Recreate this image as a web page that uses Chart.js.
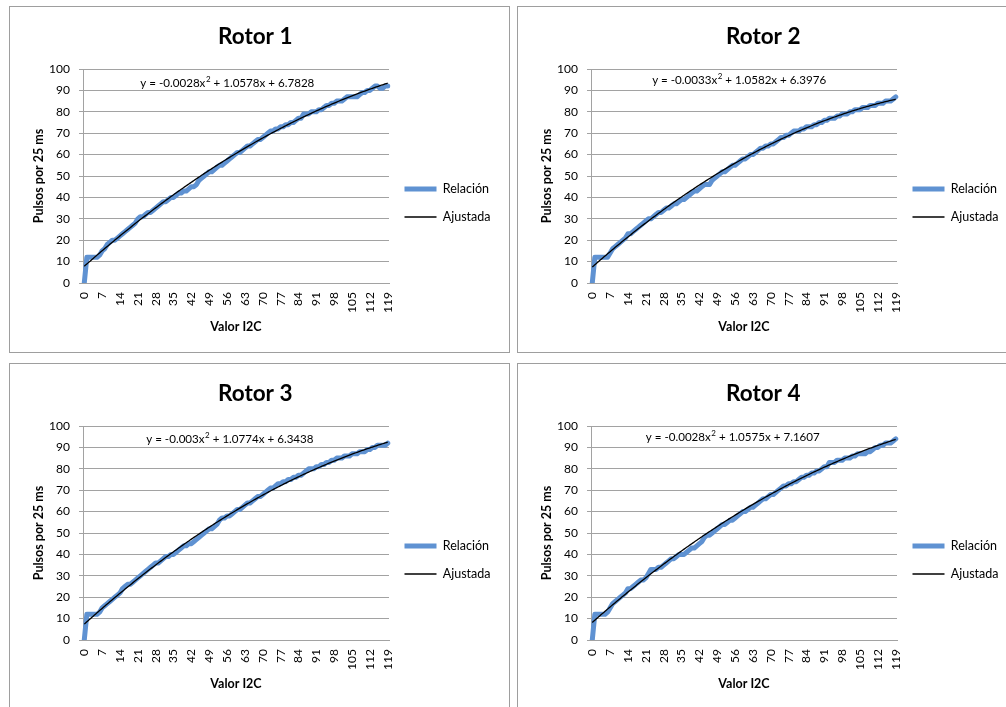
<!DOCTYPE html>
<html>
<head>
<meta charset="utf-8">
<script src="https://cdn.jsdelivr.net/npm/chart.js@4.4.1/dist/chart.umd.min.js"></script>
<style>
  html, body { margin: 0; padding: 0; background: #fff; overflow: hidden; width: 1006px; height: 707px; }
  .panel { position: absolute; width: 499px; height: 345px; border: 1px solid #9e9e9e; background: #fff; }
  .panel canvas { display: block; }
</style>
</head>
<body>
<div class="panel" style="left:9px;top:6px"><canvas id="rotor1" width="499" height="345"></canvas></div>
<div class="panel" style="left:517px;top:6px"><canvas id="rotor2" width="499" height="345"></canvas></div>
<div class="panel" style="left:9px;top:363px"><canvas id="rotor3" width="499" height="345"></canvas></div>
<div class="panel" style="left:517px;top:363px"><canvas id="rotor4" width="499" height="345"></canvas></div>
<script>
// Valor I2C (x categories)
const categories = [
  0,1,2,3,4,5,6,7,8,9,10,11,12,13,14,15,16,17,18,19,
  20,21,22,23,24,25,26,27,28,29,30,31,32,33,34,35,36,37,38,39,
  40,41,42,43,44,45,46,47,48,49,50,51,52,53,54,55,56,57,58,59,
  60,61,62,63,64,65,66,67,68,69,70,71,72,73,74,75,76,77,78,79,
  80,81,82,83,84,85,86,87,88,89,90,91,92,93,94,95,96,97,98,99,
  100,101,102,103,104,105,106,107,108,109,110,111,112,113,114,115,116,117,118,119
];
// category labels printed on the x axis
const xTickLabels = [0,7,14,21,28,35,42,49,56,63,70,77,84,91,98,105,112,119];
const yTicks = [0,10,20,30,40,50,60,70,80,90,100];

// Pulsos por 25 ms measured for each rotor
const rotor1Relacion = [
  0,12,12,12,12,12,13,15,16,18, 19,20,20,21,22,23,24,25,26,27,
  28,30,31,31,32,33,33,34,35,36, 37,38,38,39,40,40,41,42,42,43,
  43,44,45,45,46,48,49,50,51,52, 52,53,54,55,55,56,57,58,59,60,
  61,61,62,63,64,64,65,66,67,67, 68,69,70,71,71,72,72,73,73,74,
  74,75,75,76,77,77,79,79,79,80, 80,80,81,81,82,83,83,84,84,85,
  85,85,86,87,87,87,87,87,88,89, 89,90,90,91,92,92,91,91,92,92
];
const rotor2Relacion = [
  0,12,12,12,12,12,12,14,16,17, 18,19,20,21,23,23,24,25,26,27,
  28,29,30,30,31,32,33,33,34,35, 35,36,37,37,38,39,39,40,41,42,
  43,43,44,45,46,46,46,48,49,50, 51,52,52,53,54,55,55,56,57,58,
  58,59,60,60,61,62,63,63,64,64, 65,65,66,67,68,68,69,69,70,71,
  71,71,72,72,73,73,73,74,74,75, 75,76,76,77,77,77,78,78,79,79,
  79,80,80,81,81,81,82,82,82,83, 83,83,84,84,84,85,85,85,86,87
];
const rotor3Relacion = [
  0,12,12,12,12,12,13,15,16,17, 18,19,20,21,22,24,25,26,26,27,
  28,29,30,31,32,33,34,35,36,36, 37,38,39,39,40,40,41,42,43,44,
  44,45,45,46,47,48,49,50,51,52, 52,53,54,56,57,57,58,58,59,60,
  61,61,62,63,64,64,65,66,67,67, 68,69,70,71,71,72,73,73,74,74,
  75,75,76,76,77,77,78,79,80,80, 80,81,81,82,82,83,83,84,84,85,
  85,85,86,86,86,87,87,87,88,88, 88,89,89,90,90,91,91,91,91,92
];
const rotor4Relacion = [
  0,12,12,12,12,12,13,15,17,18, 19,20,21,22,24,24,25,26,27,28,
  28,29,31,33,33,33,34,34,35,36, 37,38,38,39,40,40,40,41,42,43,
  43,44,45,46,48,49,49,50,51,52, 53,54,54,55,56,56,57,58,59,60,
  60,61,62,62,63,64,65,66,66,67, 68,68,69,70,71,72,72,73,73,74,
  74,75,76,76,77,77,78,78,79,79, 80,81,81,83,83,83,84,84,84,85,
  85,85,86,86,87,87,87,87,88,88, 89,90,90,91,91,92,92,92,93,94
];

// polynomial trendline coefficients [x², x, constant]
const rotor1Fit = [-0.0028, 1.0578, 6.7828];
const rotor2Fit = [-0.0033, 1.0582, 6.3976];
const rotor3Fit = [-0.003, 1.0774, 6.3438];
const rotor4Fit = [-0.0028, 1.0575, 7.1607];

const FONT_FAMILY = "Lato, Carlito, 'Liberation Sans', sans-serif";
const GRID = '#a2a2a2';
const BLUE = '#5f92d2';
const LEGEND_FONT = 12.5;
const LEGEND_PAD = 15.5;
const LEGEND_LINE = 32;
const TICK_FONT = 12;
const AXIS_TITLE_FONT = 12.5;
const PLOT_LEFT = 73, PLOT_RIGHT = 379, PLOT_TOP = 62, PLOT_BOTTOM = 276;
const CANVAS_W = 499, CANVAS_H = 345;
const LEGEND_FIRST_ROW = 182;

Chart.defaults.font.family = FONT_FAMILY;
Chart.defaults.color = '#000';

// width of the legend box, so the plot keeps its place on the left
const probe = document.createElement('canvas').getContext('2d');
probe.font = LEGEND_FONT + 'px ' + FONT_FAMILY;
const legendTextW = Math.max(probe.measureText('Relación').width, probe.measureText('Ajustada').width);
const legendW = LEGEND_PAD + LEGEND_LINE + LEGEND_FONT / 2 + legendTextW + 10;
const padRight = CANVAS_W - PLOT_RIGHT - legendW;
// empty legend heading that pushes the two entries down beside the plot
const legendHeadGap = LEGEND_FIRST_ROW - PLOT_TOP - LEGEND_PAD - LEGEND_FONT / 2 - 10;

// trendline equation written inside the plot, with a superscript square
const equationLabel = {
  id: 'equationLabel',
  afterDatasetsDraw(chart, args, opts) {
    const { ctx, scales: { x, y } } = chart;
    const [a, b, c] = opts.coef;
    const head = 'y = ' + a + 'x';
    const sup = '2';
    const tail = ' + ' + b + 'x + ' + c;
    const mainFont = opts.size + 'px ' + FONT_FAMILY;
    const supFont = Math.round(opts.size * 0.65) + 'px ' + FONT_FAMILY;
    ctx.save();
    ctx.fillStyle = '#000';
    ctx.textBaseline = 'alphabetic';
    ctx.font = mainFont;
    const w1 = ctx.measureText(head).width;
    const w3 = ctx.measureText(tail).width;
    ctx.font = supFont;
    const w2 = ctx.measureText(sup).width;
    const cx = x.getPixelForValue(opts.at[0]);
    const cy = y.getPixelForValue(opts.at[1]);
    const left = cx - (w1 + w2 + w3) / 2;
    const base = cy + opts.size * 0.36;
    ctx.textAlign = 'left';
    ctx.font = mainFont;
    ctx.fillText(head, left, base);
    ctx.font = supFont;
    ctx.fillText(sup, left + w1 + 0.5, base - opts.size * 0.42);
    ctx.font = mainFont;
    ctx.fillText(tail, left + w1 + w2 + 0.5, base);
    ctx.restore();
  }
};

function rotorChart(id, title, relacion, fit, eqAt) {
  const [a, b, c] = fit;
  // Excel numbers the categories from 1 when it fits a line chart
  const ajustada = categories.map((_, i) => a * (i + 1) * (i + 1) + b * (i + 1) + c);
  return new Chart(document.getElementById(id), {
    type: 'line',
    data: {
      labels: categories,
      datasets: [
        {
          label: 'Relación',
          data: relacion,
          borderColor: BLUE,
          backgroundColor: BLUE,
          borderWidth: 5,
          pointRadius: 0,
          pointBorderWidth: 5,
          pointBorderColor: BLUE,
          borderCapStyle: 'round',
          borderJoinStyle: 'round',
          tension: 0,
          fill: false,
          order: 1
        },
        {
          label: 'Ajustada',
          data: ajustada,
          borderColor: '#000',
          backgroundColor: '#000',
          borderWidth: 1.3,
          pointRadius: 0,
          pointBorderWidth: 1.3,
          pointBorderColor: '#000',
          tension: 0.2,
          fill: false,
          order: 0
        }
      ]
    },
    plugins: [equationLabel],
    options: {
      responsive: false,
      animation: false,
      events: [],
      layout: { padding: { left: 0, right: padRight, top: 0, bottom: 0 } },
      scales: {
        x: {
          type: 'category',
          offset: true,
          grid: { display: true, drawOnChartArea: false, drawTicks: false },
          border: { display: true, color: GRID, width: 1 },
          ticks: {
            autoSkip: false,
            maxRotation: 90,
            minRotation: 90,
            padding: 9,
            font: { size: TICK_FONT },
            callback(value, index) {
              const v = categories[index];
              return xTickLabels.includes(v) ? String(v) : null;
            }
          },
          title: {
            display: true,
            text: 'Valor I2C',
            font: { size: AXIS_TITLE_FONT, weight: 'bold' },
            padding: { top: 0, bottom: 25 - AXIS_TITLE_FONT * 0.6 }
          },
          afterFit(scale) { scale.height = CANVAS_H - PLOT_BOTTOM; }
        },
        y: {
          min: yTicks[0],
          max: yTicks[yTicks.length - 1],
          grid: { color: GRID, lineWidth: 1, tickLength: 4, drawTicks: true },
          border: { display: true, color: GRID, width: 1 },
          ticks: { stepSize: 10, padding: 9, font: { size: TICK_FONT } },
          title: {
            display: true,
            text: 'Pulsos por 25 ms',
            font: { size: AXIS_TITLE_FONT, weight: 'bold' },
            padding: { top: 29 - AXIS_TITLE_FONT * 0.6, bottom: 0 }
          },
          afterFit(scale) { scale.width = PLOT_LEFT; }
        }
      },
      plugins: {
        title: {
          display: true,
          text: title,
          font: { size: 22.5, weight: 'bold' },
          color: '#000',
          padding: { top: 30 - 22.5 * 0.6, bottom: PLOT_TOP - 30 - 22.5 * 0.6 }
        },
        legend: {
          position: 'right',
          fullSize: false,
          align: 'start',
          title: { display: true, text: '', font: { size: 10, lineHeight: 1 }, padding: { top: legendHeadGap, bottom: 0 } },
          labels: {
            usePointStyle: true,
            pointStyle: 'line',
            pointStyleWidth: LEGEND_LINE,
            padding: LEGEND_PAD,
            font: { size: LEGEND_FONT },
            color: '#000',
            sort: (p, q) => p.datasetIndex - q.datasetIndex
          }
        },
        tooltip: { enabled: false },
        equationLabel: { coef: fit, at: eqAt, size: 11.6 }
      }
    }
  });
}

rotorChart('rotor1', 'Rotor 1', rotor1Relacion, rotor1Fit, [56, 93.5]);
rotorChart('rotor2', 'Rotor 2', rotor2Relacion, rotor2Fit, [57.5, 95]);
rotorChart('rotor3', 'Rotor 3', rotor3Relacion, rotor3Fit, [57, 94]);
rotorChart('rotor4', 'Rotor 4', rotor4Relacion, rotor4Fit, [55, 95]);
</script>
</body>
</html>
